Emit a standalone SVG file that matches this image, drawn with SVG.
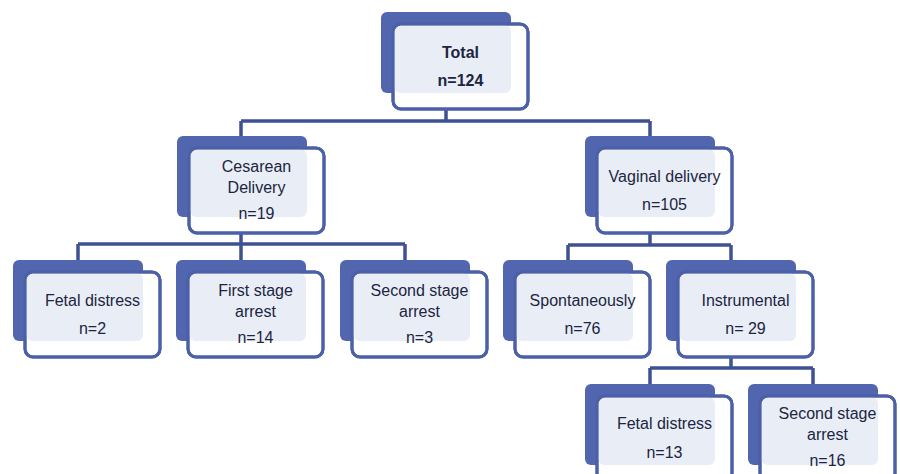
<svg xmlns="http://www.w3.org/2000/svg" width="900" height="474" viewBox="0 0 900 474">
<style>
.back{fill:#5166AE}
.front{fill:#FFFFFF;stroke:#4B60A7;stroke-width:3}
.panel{fill:#E9EEF6}
.outline{fill:none;stroke:#4B60A7;stroke-width:3}
.conn{fill:none;stroke:#3E5192;stroke-width:3.5}
text{font-family:"Liberation Sans",Arial,sans-serif;font-size:16px;fill:#1C2541;text-anchor:middle}
.b{font-weight:bold}
</style>
<rect width="900" height="474" fill="#FFFFFF"/>
<g id="connectors">
<path class="conn" d="M446 108V121M241 121H650M241 121V136M650 121V136"/>
<path class="conn" d="M241 233V244M78 244H405M78 244V260M241 244V260M405 244V260"/>
<path class="conn" d="M650 233V245M568 245H731M568 245V260M731 245V260"/>
<path class="conn" d="M731 357V368M650 368H813M650 368V384M813 368V384"/>
</g>
<g id="total">
<rect class="back" x="381" y="12" width="130" height="81" rx="6"/>
<rect class="front" x="393" y="24" width="135" height="85" rx="8"/>
<rect class="panel" x="394.5" y="25.5" width="116.5" height="67.5" rx="6"/>
<rect class="outline" x="393" y="24" width="135" height="85" rx="8"/>
<text class="b" x="460.5" y="58">Total</text>
<text class="b" x="460.5" y="86">n=124</text>
</g>
<g id="cesarean">
<rect class="back" x="177" y="136" width="130" height="81" rx="6"/>
<rect class="front" x="189" y="148" width="135" height="85" rx="8"/>
<rect class="panel" x="190.5" y="149.5" width="116.5" height="67.5" rx="6"/>
<rect class="outline" x="189" y="148" width="135" height="85" rx="8"/>
<text x="256.5" y="172">Cesarean</text>
<text x="256.5" y="193">Delivery</text>
<text x="256.5" y="219">n=19</text>
</g>
<g id="vaginal">
<rect class="back" x="585" y="136" width="130" height="81" rx="6"/>
<rect class="front" x="597" y="148" width="135" height="85" rx="8"/>
<rect class="panel" x="598.5" y="149.5" width="116.5" height="67.5" rx="6"/>
<rect class="outline" x="597" y="148" width="135" height="85" rx="8"/>
<text x="664.5" y="182">Vaginal delivery</text>
<text x="664.5" y="210">n=105</text>
</g>
<g id="fetal-distress-cs">
<rect class="back" x="13" y="260" width="130" height="81" rx="6"/>
<rect class="front" x="25" y="272" width="135" height="85" rx="8"/>
<rect class="panel" x="26.5" y="273.5" width="116.5" height="67.5" rx="6"/>
<rect class="outline" x="25" y="272" width="135" height="85" rx="8"/>
<text x="92.5" y="306">Fetal distress</text>
<text x="92.5" y="334">n=2</text>
</g>
<g id="first-stage">
<rect class="back" x="176" y="260" width="130" height="81" rx="6"/>
<rect class="front" x="188" y="272" width="135" height="85" rx="8"/>
<rect class="panel" x="189.5" y="273.5" width="116.5" height="67.5" rx="6"/>
<rect class="outline" x="188" y="272" width="135" height="85" rx="8"/>
<text x="255.5" y="296">First stage</text>
<text x="255.5" y="317">arrest</text>
<text x="255.5" y="343">n=14</text>
</g>
<g id="second-stage-cs">
<rect class="back" x="340" y="260" width="130" height="81" rx="6"/>
<rect class="front" x="352" y="272" width="135" height="85" rx="8"/>
<rect class="panel" x="353.5" y="273.5" width="116.5" height="67.5" rx="6"/>
<rect class="outline" x="352" y="272" width="135" height="85" rx="8"/>
<text x="419.5" y="296">Second stage</text>
<text x="419.5" y="317">arrest</text>
<text x="419.5" y="343">n=3</text>
</g>
<g id="spontaneously">
<rect class="back" x="503" y="260" width="130" height="81" rx="6"/>
<rect class="front" x="515" y="272" width="135" height="85" rx="8"/>
<rect class="panel" x="516.5" y="273.5" width="116.5" height="67.5" rx="6"/>
<rect class="outline" x="515" y="272" width="135" height="85" rx="8"/>
<text x="582.5" y="306">Spontaneously</text>
<text x="582.5" y="334">n=76</text>
</g>
<g id="instrumental">
<rect class="back" x="666" y="260" width="130" height="81" rx="6"/>
<rect class="front" x="678" y="272" width="135" height="85" rx="8"/>
<rect class="panel" x="679.5" y="273.5" width="116.5" height="67.5" rx="6"/>
<rect class="outline" x="678" y="272" width="135" height="85" rx="8"/>
<text x="745.5" y="306">Instrumental</text>
<text x="745.5" y="334">n= 29</text>
</g>
<g id="fetal-distress-vd">
<rect class="back" x="585" y="384" width="130" height="81" rx="6"/>
<rect class="front" x="597" y="396" width="135" height="85" rx="8"/>
<rect class="panel" x="598.5" y="397.5" width="116.5" height="67.5" rx="6"/>
<rect class="outline" x="597" y="396" width="135" height="85" rx="8"/>
<text x="664.5" y="429">Fetal distress</text>
<text x="664.5" y="458">n=13</text>
</g>
<g id="second-stage-vd">
<rect class="back" x="748" y="384" width="130" height="81" rx="6"/>
<rect class="front" x="760" y="396" width="135" height="85" rx="8"/>
<rect class="panel" x="761.5" y="397.5" width="116.5" height="67.5" rx="6"/>
<rect class="outline" x="760" y="396" width="135" height="85" rx="8"/>
<text x="827.5" y="419">Second stage</text>
<text x="827.5" y="440">arrest</text>
<text x="827.5" y="466">n=16</text>
</g>
</svg>
